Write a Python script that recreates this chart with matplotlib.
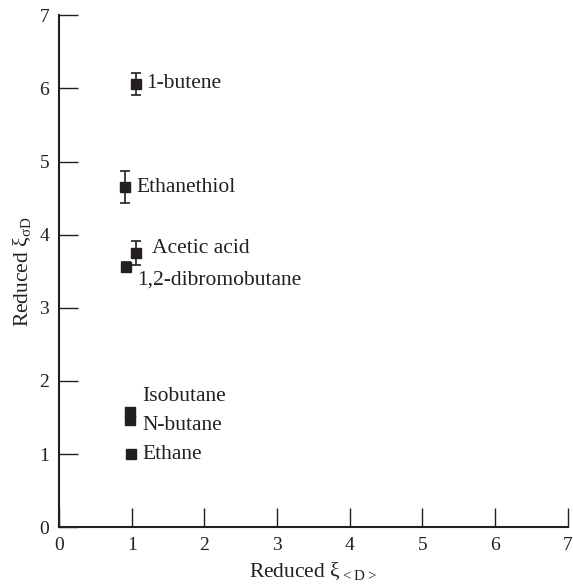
import matplotlib
matplotlib.use('Agg')
import matplotlib.pyplot as plt

plt.rcParams['font.family'] = ['Liberation Serif', 'DejaVu Serif']
plt.rcParams['mathtext.fontset'] = 'custom'
plt.rcParams['mathtext.rm'] = 'Liberation Serif'

# data
names = ['1-butene', 'Ethanethiol', 'Acetic acid', '1,2-dibromobutane',
         'Isobutane', 'N-butane', 'Ethane']
x_vals = [1.06, 0.91, 1.06, 0.92, 0.98, 0.98, 0.99]
y_vals = [6.06, 4.65, 3.75, 3.56, 1.58, 1.46, 1.00]
y_err = [0.15, 0.22, 0.16, 0.06, 0.05, 0.05, 0.0]

# label offsets in points (dx, dy)
offsets = [(7, 0), (8, 0), (11.5, 3), (8, -9.5), (8.5, 11), (8.5, -4), (8, 0)]

fig = plt.figure(figsize=(5.73, 5.87), dpi=100)
ax = fig.add_axes([0.103, 0.102, 0.888, 0.872])

ax.errorbar(x_vals, y_vals, yerr=y_err, fmt='s', color='#231f20',
            markersize=7.5, capsize=3.5, elinewidth=1.2, capthick=1.2)

for name, xv, yv, off in zip(names, x_vals, y_vals, offsets):
    ax.annotate(name, (xv, yv), xytext=off, textcoords='offset points',
                ha='left', va='center', fontsize=15.5, color='#231f20')

ax.set_xlim(0, 7)
ax.set_ylim(0, 7)
ax.set_xticks(range(8))
ax.set_yticks(range(8))
ax.spines['top'].set_visible(False)
ax.spines['right'].set_visible(False)
for s in ['left', 'bottom']:
    ax.spines[s].set_linewidth(1.5)
    ax.spines[s].set_color('#231f20')
ax.tick_params(direction='in', length=14, width=1, colors='#231f20',
               labelsize=14, pad=7)

ax.set_xlabel('Reduced ξ$_{\\mathregular{<D>}}$', fontsize=15.5,
              color='#231f20', labelpad=5)
ax.set_ylabel('Reduced ξ$_{\\mathregular{σD}}$', fontsize=15.5,
              color='#231f20', labelpad=4)

fig.savefig('out.png', dpi=100)
